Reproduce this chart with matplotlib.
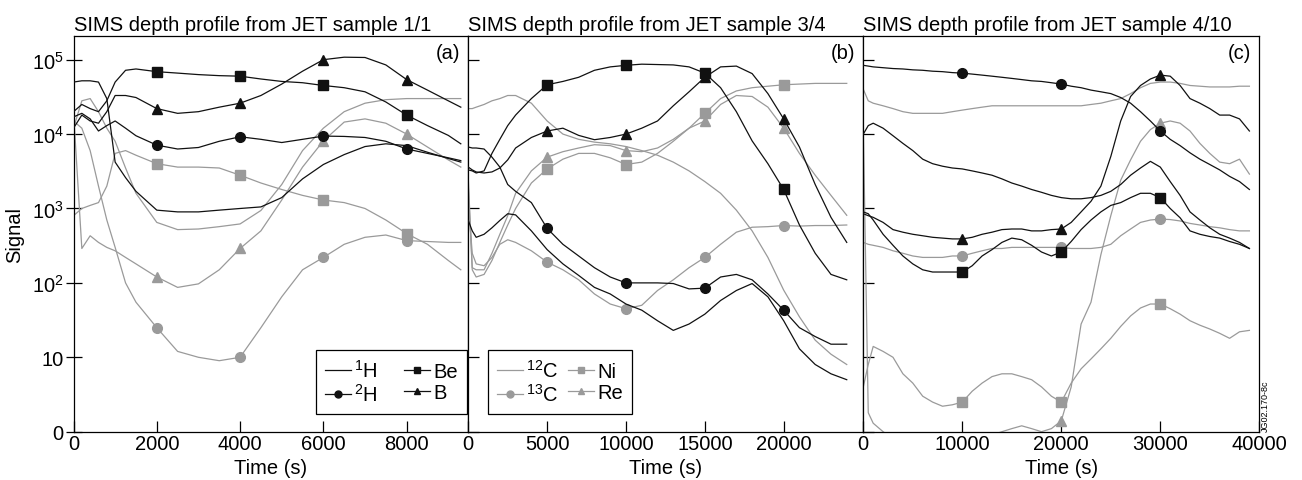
import matplotlib
matplotlib.use('Agg')
import matplotlib.pyplot as plt
from matplotlib.lines import Line2D
from matplotlib.ticker import NullLocator

plt.rcParams['font.family'] = ['Liberation Sans', 'DejaVu Sans']
plt.rcParams['mathtext.fontset'] = 'custom'
plt.rcParams['mathtext.rm'] = 'Liberation Sans'
plt.rcParams['mathtext.it'] = 'Liberation Sans:italic'
plt.rcParams['mathtext.bf'] = 'Liberation Sans:bold'

# ---- panel (a): sample 1/1 ----
ta = [0, 200, 400, 600, 800, 1000, 1250, 1500, 2000, 2500, 3000, 3500, 4000,
      4500, 5000, 5500, 6000, 6500, 7000, 7500, 8000, 8500, 9000, 9300]
a_1H = [5.0e4, 5.2e4, 5.2e4, 5.0e4, 3.0e4, 4.2e3, 2.6e3, 1.7e3, 9.5e2, 9.0e2, 9.0e2, 9.5e2,
        1.0e3, 1.05e3, 1.4e3, 2.5e3, 3.9e3, 5.3e3, 6.8e3, 7.4e3, 7.0e3, 5.7e3, 4.7e3, 4.2e3]
a_2H = [1.7e4, 1.9e4, 1.6e4, 1.1e4, 1.3e4, 1.5e4, 1.2e4, 9.5e3, 7.1e3, 6.3e3, 6.6e3, 8.0e3,
        9.2e3, 8.5e3, 7.7e3, 8.5e3, 9.4e3, 9.3e3, 9.0e3, 8.0e3, 6.3e3, 5.5e3, 4.8e3, 4.4e3]
a_Be = [2.0e4, 2.5e4, 2.2e4, 2.0e4, 2.8e4, 5.0e4, 7.2e4, 7.5e4, 6.9e4, 6.6e4, 6.3e4, 6.1e4,
        6.0e4, 5.5e4, 5.1e4, 4.9e4, 4.5e4, 4.2e4, 3.7e4, 2.7e4, 1.8e4, 1.3e4, 9.6e3, 7.4e3]
a_B = [1.2e4, 1.8e4, 1.5e4, 1.4e4, 2.0e4, 3.3e4, 3.3e4, 3.1e4, 2.2e4, 1.9e4, 2.0e4, 2.3e4,
       2.6e4, 3.3e4, 4.7e4, 7.0e4, 1.0e5, 1.08e5, 1.07e5, 8.5e4, 5.4e4, 3.9e4, 2.8e4, 2.3e4]
a_12C = [1.2e4, 2.8e4, 3.0e4, 2.0e4, 1.2e4, 8.0e3, 3.5e3, 1.6e3, 6.5e2, 5.2e2, 5.3e2, 5.7e2,
         6.2e2, 9.4e2, 2.1e3, 6.0e3, 1.2e4, 2.0e4, 2.6e4, 2.9e4, 3.0e4, 3.0e4, 3.0e4, 3.0e4]
a_13C = [1.5e4, 1.2e4, 6.0e3, 2.0e3, 7.0e2, 3.0e2, 1.0e2, 55, 25, 12, 10, 9,
         10, 25, 65, 1.5e2, 2.2e2, 3.3e2, 4.1e2, 4.4e2, 3.7e2, 3.6e2, 3.5e2, 3.5e2]
a_Ni = [8.0e2, 1.0e3, 1.1e3, 1.2e3, 2.0e3, 5.5e3, 6.0e3, 5.2e3, 4.0e3, 3.6e3, 3.6e3, 3.5e3,
        2.8e3, 2.2e3, 1.8e3, 1.5e3, 1.3e3, 1.2e3, 1.0e3, 7.0e2, 4.6e2, 3.3e2, 2.0e2, 1.5e2]
a_Re = [2.0e4, 2.9e2, 4.3e2, 3.5e2, 3.0e2, 2.7e2, 2.2e2, 1.8e2, 1.2e2, 87, 97, 1.5e2,
        2.9e2, 5.0e2, 1.3e3, 3.6e3, 8.1e3, 1.45e4, 1.6e4, 1.4e4, 1.0e4, 6.7e3, 4.5e3, 3.6e3]

# ---- panel (b): sample 3/4 ----
tb = [0, 250, 500, 1000, 1500, 2000, 2500, 3000, 4000, 5000, 6000, 7000, 8000, 9000, 10000,
      11000, 12000, 13000, 14000, 15000, 16000, 17000, 18000, 19000, 20000, 21000, 22000,
      23000, 24000]
b_1H = [6.9e2, 5.0e2, 4.1e2, 4.5e2, 5.5e2, 6.9e2, 8.5e2, 8.2e2, 5.0e2, 2.8e2, 1.8e2, 1.26e2,
        87, 71, 52, 43, 31, 23, 28, 38, 58, 79, 98, 65, 31, 13, 8, 6, 5]
b_2H = [6.7e3, 6.5e3, 6.5e3, 6.3e3, 4.9e3, 3.6e3, 2.1e3, 1.7e3, 1.2e3, 5.4e2, 3.3e2, 2.3e2,
        1.6e2, 1.2e2, 1.0e2, 1.0e2, 1.0e2, 98, 83, 85, 1.2e2, 1.3e2, 1.1e2, 71, 43, 25, 19, 15, 15]
b_Be = [3.3e3, 3.2e3, 3.0e3, 3.2e3, 5.5e3, 8.5e3, 1.3e4, 1.8e4, 3.0e4, 4.6e4, 5.1e4, 5.8e4,
        7.2e4, 8.0e4, 8.4e4, 8.7e4, 8.6e4, 8.5e4, 8.0e4, 6.6e4, 4.2e4, 2.0e4, 8.1e3, 4.0e3,
        1.8e3, 6.0e2, 2.5e2, 1.3e2, 1.1e2]
b_B = [3.6e3, 3.3e3, 3.1e3, 3.0e3, 3.1e3, 3.5e3, 4.5e3, 6.5e3, 9.0e3, 1.1e4, 1.2e4, 9.6e3,
       8.4e3, 9.0e3, 1.0e4, 1.2e4, 1.5e4, 2.4e4, 3.7e4, 5.8e4, 8.0e4, 8.2e4, 6.5e4, 3.5e4,
       1.6e4, 6.7e3, 2.1e3, 7.6e2, 3.5e2]
b_12C = [2.2e4, 2.2e4, 2.3e4, 2.5e4, 2.8e4, 3.0e4, 3.3e4, 3.3e4, 2.6e4, 1.5e4, 1.0e4, 8.5e3,
         7.8e3, 7.4e3, 6.8e3, 6.0e3, 5.2e3, 4.2e3, 3.2e3, 2.3e3, 1.6e3, 9.5e2, 5.0e2, 2.2e2,
         80, 35, 17, 11, 8]
b_13C = [1.2e3, 2.5e2, 1.8e2, 1.7e2, 2.2e2, 3.3e2, 3.8e2, 3.5e2, 2.7e2, 1.9e2, 1.5e2, 1.1e2,
         71, 52, 45, 50, 79, 1.1e2, 1.6e2, 2.2e2, 3.3e2, 4.8e2, 5.6e2, 5.7e2, 5.9e2, 5.8e2,
         5.9e2, 5.9e2, 6.0e2]
b_Ni = [2.5e3, 1.5e2, 1.2e2, 1.3e2, 2.0e2, 3.5e2, 6.0e2, 1.0e3, 2.2e3, 3.4e3, 4.6e3, 5.5e3,
        5.5e3, 4.8e3, 3.9e3, 4.2e3, 5.5e3, 8.0e3, 1.2e4, 1.9e4, 3.0e4, 3.8e4, 4.2e4, 4.4e4,
        4.6e4, 4.7e4, 4.8e4, 4.8e4, 4.8e4]
b_Re = [2.0e3, 1.6e2, 1.5e2, 1.5e2, 2.5e2, 4.5e2, 8.0e2, 1.6e3, 3.2e3, 4.9e3, 5.8e3, 6.5e3,
        7.2e3, 7.0e3, 6.0e3, 5.8e3, 6.5e3, 8.5e3, 1.2e4, 1.5e4, 2.5e4, 3.3e4, 3.2e4, 2.3e4,
        1.2e4, 5.5e3, 2.8e3, 1.5e3, 8.1e2]

# ---- panel (c): sample 4/10 ----
tc = [0, 500, 1000, 2000, 3000, 4000, 5000, 6000, 7000, 8000, 9000, 10000, 11000, 12000,
      13000, 14000, 15000, 16000, 17000, 18000, 19000, 20000, 21000, 22000, 23000, 24000,
      25000, 26000, 27000, 28000, 29000, 30000, 31000, 32000, 33000, 34000, 35000, 36000,
      37000, 38000, 39000]
c_1H = [1.0e4, 1.3e4, 1.4e4, 1.2e4, 9.5e3, 7.5e3, 6.0e3, 4.6e3, 4.0e3, 3.7e3, 3.5e3, 3.4e3,
        3.2e3, 3.0e3, 2.8e3, 2.5e3, 2.2e3, 2.0e3, 1.8e3, 1.65e3, 1.5e3, 1.4e3, 1.35e3, 1.35e3,
        1.4e3, 1.5e3, 1.7e3, 2.1e3, 2.8e3, 3.5e3, 4.3e3, 3.6e3, 2.3e3, 1.5e3, 9.0e2, 7.0e2,
        5.5e2, 4.5e2, 4.0e2, 3.5e2, 2.9e2]
c_2H = [8.4e4, 8.2e4, 8.0e4, 7.8e4, 7.6e4, 7.5e4, 7.3e4, 7.2e4, 7.0e4, 6.9e4, 6.7e4, 6.6e4,
        6.4e4, 6.2e4, 6.0e4, 5.8e4, 5.6e4, 5.4e4, 5.2e4, 5.1e4, 4.9e4, 4.7e4, 4.4e4, 4.2e4,
        3.9e4, 3.7e4, 3.5e4, 3.1e4, 2.6e4, 2.0e4, 1.5e4, 1.1e4, 8.5e3, 7.0e3, 5.6e3, 4.6e3,
        3.9e3, 3.3e3, 2.7e3, 2.3e3, 1.8e3]
c_Be = [9.0e2, 8.5e2, 7.0e2, 4.5e2, 3.2e2, 2.3e2, 1.8e2, 1.5e2, 1.4e2, 1.4e2, 1.4e2, 1.4e2,
        1.7e2, 2.3e2, 2.8e2, 3.5e2, 4.0e2, 3.8e2, 3.2e2, 2.6e2, 2.3e2, 2.6e2, 3.6e2, 5.2e2,
        7.0e2, 9.0e2, 1.1e3, 1.2e3, 1.4e3, 1.6e3, 1.6e3, 1.4e3, 1.0e3, 7.5e2, 5.0e2, 4.5e2,
        4.2e2, 4.0e2, 3.6e2, 3.3e2, 2.9e2]
c_B = [8.5e2, 8.0e2, 7.6e2, 6.5e2, 5.2e2, 4.8e2, 4.5e2, 4.3e2, 4.1e2, 4.0e2, 3.9e2, 3.9e2,
       4.1e2, 4.5e2, 4.8e2, 5.2e2, 5.3e2, 5.3e2, 5.0e2, 5.0e2, 5.2e2, 5.3e2, 6.5e2, 9.0e2,
       1.25e3, 2.0e3, 5.0e3, 1.5e4, 3.2e4, 4.5e4, 5.5e4, 6.2e4, 6.0e4, 4.5e4, 3.0e4, 2.6e4,
       2.2e4, 1.8e4, 1.8e4, 1.6e4, 1.1e4]
c_12C = [4.0e4, 2.8e4, 2.6e4, 2.4e4, 2.2e4, 2.0e4, 1.9e4, 1.9e4, 1.9e4, 1.9e4, 2.0e4, 2.1e4,
         2.2e4, 2.3e4, 2.4e4, 2.4e4, 2.4e4, 2.4e4, 2.4e4, 2.4e4, 2.4e4, 2.4e4, 2.4e4, 2.4e4,
         2.5e4, 2.6e4, 2.8e4, 3.0e4, 3.5e4, 4.2e4, 4.8e4, 5.0e4, 5.0e4, 4.8e4, 4.5e4, 4.4e4,
         4.3e4, 4.3e4, 4.3e4, 4.4e4, 4.4e4]
c_13C = [3.5e2, 3.3e2, 3.2e2, 3.0e2, 2.7e2, 2.5e2, 2.3e2, 2.2e2, 2.2e2, 2.2e2, 2.3e2, 2.3e2,
         2.5e2, 2.7e2, 2.9e2, 2.9e2, 3.0e2, 3.0e2, 3.0e2, 3.0e2, 3.0e2, 3.0e2, 2.9e2, 2.9e2,
         2.9e2, 3.0e2, 3.3e2, 4.3e2, 5.3e2, 6.5e2, 7.0e2, 7.2e2, 7.1e2, 6.8e2, 6.3e2, 6.0e2,
         5.7e2, 5.5e2, 5.2e2, 5.0e2, 5.0e2]
c_Ni = [4, 8, 14, 12, 10, 6, 4.5, 3, 2.5, 2.2, 2.3, 2.5,
        3.5, 4.5, 5.5, 6, 6, 5.5, 5, 4, 3, 2.5, 4.5, 7,
        9.5, 13, 18, 26, 36, 46, 52, 52, 45, 38, 31, 27,
        24, 21, 18, 22, 23]
c_Re = [1.2e4, 1.8, 1.3, 1.0, 0.8, 0.7, 0.6, 0.6, 0.6, 0.6, 0.6, 0.6,
        0.7, 0.8, 0.9, 1.0, 1.1, 1.2, 1.1, 1.0, 1.1, 1.4, 4, 28,
        55, 2.4e2, 8.0e2, 2.4e3, 4.5e3, 8.0e3, 1.15e4, 1.4e4, 1.5e4, 1.4e4, 1.1e4, 7.5e3,
        5.5e3, 4.2e3, 4.0e3, 4.6e3, 2.9e3]

BLACK = '#111111'
GREY = '#9a9a9a'
FS = 14.5
styles = {
    '1H': (BLACK, None, '$^{1}$H'), '2H': (BLACK, 'o', '$^{2}$H'),
    'Be': (BLACK, 's', 'Be'), 'B': (BLACK, '^', 'B'),
    '12C': (GREY, None, '$^{12}$C'), '13C': (GREY, 'o', '$^{13}$C'),
    'Ni': (GREY, 's', 'Ni'), 'Re': (GREY, '^', 'Re'),
}

fig = plt.figure(figsize=(13.02, 4.81), dpi=100)
W, H = 1302.0, 481.0
top_px, bot_px = 36.7, 432.7
edges = [73.5, 468.3, 863.3, 1259.3]
axes = []
for i in range(3):
    rect = [edges[i] / W, 1 - bot_px / H, (edges[i + 1] - edges[i]) / W, (bot_px - top_px) / H]
    axes.append(fig.add_axes(rect))


def draw_panel(ax, t, data, mark_t):
    idx = [i for i, v in enumerate(t) if v in mark_t]
    for key, vals in data:
        col, mk, _ = styles[key]
        ax.plot(t, vals, color=col, lw=0.9, marker=mk, markevery=idx, ms=7,
                mec=col, mfc=col, zorder=3 if col == BLACK else 2)


draw_panel(axes[0], ta, [('12C', a_12C), ('13C', a_13C), ('Ni', a_Ni), ('Re', a_Re),
                         ('1H', a_1H), ('2H', a_2H), ('Be', a_Be), ('B', a_B)],
           [2000, 4000, 6000, 8000])
draw_panel(axes[1], tb, [('12C', b_12C), ('13C', b_13C), ('Ni', b_Ni), ('Re', b_Re),
                         ('1H', b_1H), ('2H', b_2H), ('Be', b_Be), ('B', b_B)],
           [5000, 10000, 15000, 20000])
draw_panel(axes[2], tc, [('12C', c_12C), ('13C', c_13C), ('Ni', c_Ni), ('Re', c_Re),
                         ('1H', c_1H), ('2H', c_2H), ('Be', c_Be), ('B', c_B)],
           [10000, 20000, 30000])

xlims = [9480, 25050, 40000]
xticks = [[0, 2000, 4000, 6000, 8000], [0, 5000, 10000, 15000, 20000],
          [0, 10000, 20000, 30000, 40000]]
titles = ['SIMS depth profile from JET sample 1/1', 'SIMS depth profile from JET sample 3/4',
          'SIMS depth profile from JET sample 4/10']
tags = ['(a)', '(b)', '(c)']
yt = [1, 10, 100, 1e3, 1e4, 1e5]
ytl = ['0', '10', '$10^2$', '$10^3$', '$10^4$', '$10^5$']

for i, ax in enumerate(axes):
    ax.set_yscale('log')
    ax.set_ylim(1, 2.1e5)
    ax.set_xlim(0, xlims[i])
    ax.set_xticks(xticks[i])
    ax.set_xticklabels([str(v) for v in xticks[i]])
    ax.set_yticks(yt)
    ax.yaxis.set_minor_locator(NullLocator())
    ax.xaxis.set_minor_locator(NullLocator())
    ax.tick_params(axis='x', direction='in', length=8, width=0.9, labelsize=FS, pad=2)
    if i == 0:
        ax.set_yticklabels(ytl)
        ax.tick_params(axis='y', direction='inout', length=12, width=0.9, labelsize=FS, pad=1)
    else:
        ax.set_yticklabels([])
        ax.tick_params(axis='y', direction='in', length=8, width=0.9)
    for sp in ax.spines.values():
        sp.set_linewidth(0.9)
    ax.set_title(titles[i], loc='left', fontsize=FS, pad=4)
    ax.set_xlabel('Time (s)', fontsize=FS, labelpad=3)
    ax.text(0.979, 0.957, tags[i], transform=ax.transAxes, ha='right', va='center',
            fontsize=FS)

fig.text(0.0115, 0.512, 'Signal', rotation=90, ha='center', va='center', fontsize=FS)


def legend_handles(keys):
    hs = []
    for k in keys:
        col, mk, lab = styles[k]
        hs.append(Line2D([], [], color=col, lw=0.9, marker=mk, ms=5, mec=col, mfc=col,
                         label=lab))
    return hs


leg_kw = dict(ncol=2, fontsize=FS, frameon=True, fancybox=False, borderaxespad=0,
              handlelength=1.3, handletextpad=0.15, labelspacing=0.1,
              borderpad=0.45, numpoints=1)
la = axes[0].legend(handles=legend_handles(['1H', '2H', 'Be', 'B']), loc='lower right',
                    bbox_to_anchor=(0.996, 0.045), columnspacing=1.3, **leg_kw)
lb = axes[1].legend(handles=legend_handles(['12C', '13C', 'Ni', 'Re']), loc='lower left',
                    bbox_to_anchor=(0.049, 0.045), columnspacing=0.5, **leg_kw)
for lg in (la, lb):
    lg.get_frame().set_edgecolor('black')
    lg.get_frame().set_linewidth(0.9)
    lg.get_frame().set_alpha(1)

fig.text(0.9715, 0.102, 'JG02.170-8c', rotation=90, ha='center', va='bottom', fontsize=6.5)

fig.savefig('out.png', dpi=100)
